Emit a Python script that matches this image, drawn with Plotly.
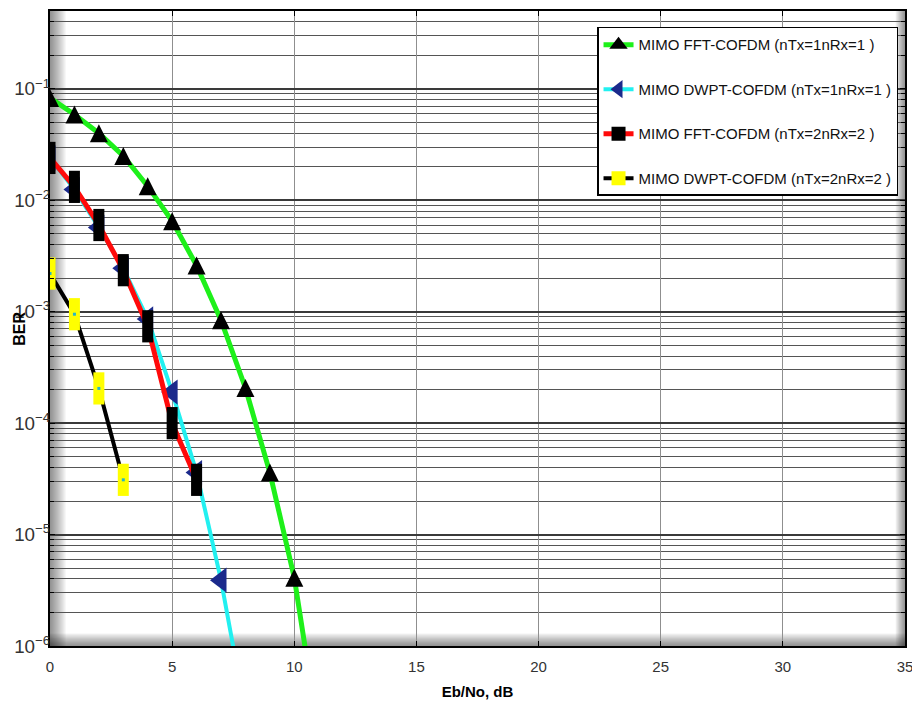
import plotly.graph_objects as go

# Eb/No grid (dB) and measured BER for each scheme
ebno_fft_1x1 = [0, 1, 2, 3, 4, 5, 6, 7, 8, 9, 10, 11]
ber_fft_1x1 = [0.083, 0.059, 0.040, 0.025, 0.0134, 0.0065, 0.0026, 0.00084,
               0.000207, 3.6e-5, 4.1e-6, 1.6e-7]

ebno_dwpt_1x1 = [0, 1, 2, 3, 4, 5, 6, 7, 8]
ber_dwpt_1x1 = [0.024, 0.0125, 0.0057, 0.00245, 0.00086, 0.00019, 3.6e-5,
                3.9e-6, 2.5e-7]

ebno_fft_2x2 = [0, 1, 2, 3, 4, 5, 6]
ber_fft_2x2 = [0.024, 0.0132, 0.0060, 0.00236, 0.00074, 1.0e-4, 3.1e-5]

ebno_dwpt_2x2 = [0, 1, 2, 3]
ber_dwpt_2x2 = [0.0022, 0.00095, 0.000205, 3.1e-5]

names = [
    "MIMO FFT-COFDM (nTx=1nRx=1 )",
    "MIMO DWPT-COFDM (nTx=1nRx=1 )",
    "MIMO FFT-COFDM (nTx=2nRx=2 )",
    "MIMO DWPT-COFDM (nTx=2nRx=2 )",
]

x_ticks = [0, 5, 10, 15, 20, 25, 30, 35]

FONT = "Liberation Sans, Arial, sans-serif"

colors = ["#1ef01a", "#22f0f0", "#ff0a0a", "black"]
widths = [5, 4, 5, 4]

fig = go.Figure()

# legend entries (symbols drawn at legend scale)
legend_markers = [
    dict(symbol="triangle-up", size=16, color="black", line=dict(width=0)),
    dict(symbol="triangle-left", size=16, color="#1b2a8c", line=dict(width=0)),
    dict(symbol="square", size=14, color="black", line=dict(width=0)),
    dict(symbol="square", size=14, color="#ffff00", line=dict(width=0)),
]
for k in range(4):
    fig.add_trace(go.Scatter(
        x=[None], y=[None], name=names[k], mode="lines+markers",
        legendgroup=f"g{k}",
        line=dict(color=colors[k], width=widths[k]),
        marker=legend_markers[k],
    ))

# FFT 1x1: green line, black up-triangles (centred arrow glyph)
fig.add_trace(go.Scatter(
    x=ebno_fft_1x1, y=ber_fft_1x1, mode="lines+markers", showlegend=False,
    legendgroup="g0",
    line=dict(color=colors[0], width=widths[0]),
    marker=dict(symbol="arrow-down", angle=180, standoff=9, size=18,
                color="black", line=dict(width=0)),
))

# DWPT 1x1: cyan line, navy left-triangles
fig.add_trace(go.Scatter(
    x=ebno_dwpt_1x1, y=ber_dwpt_1x1, mode="lines+markers", showlegend=False,
    legendgroup="g1",
    line=dict(color=colors[1], width=widths[1]),
    marker=dict(symbol="triangle-left", size=22, color="#1b2a8c",
                line=dict(width=0)),
))

# FFT 2x2: red line, tall black squares
fig.add_trace(go.Scatter(
    x=ebno_fft_2x2, y=ber_fft_2x2, mode="lines+markers", showlegend=False,
    legendgroup="g2",
    line=dict(color=colors[2], width=widths[2]),
    marker=dict(symbol="line-ns", size=23, color="black",
                line=dict(width=11, color="black")),
))

# DWPT 2x2: black line, tall yellow squares with a cyan centre dot
fig.add_trace(go.Scatter(
    x=ebno_dwpt_2x2, y=ber_dwpt_2x2, mode="lines+markers", showlegend=False,
    legendgroup="g3",
    line=dict(color=colors[3], width=widths[3]),
    marker=dict(symbol="line-ns", size=23, color="#ffff00",
                line=dict(width=11, color="#ffff00")),
))
fig.add_trace(go.Scatter(
    x=ebno_dwpt_2x2, y=ber_dwpt_2x2, mode="markers", showlegend=False,
    hoverinfo="skip",
    marker=dict(symbol="square", size=3, color="#27b5c8", line=dict(width=0)),
))

# soft shading along the inner edges of the axes box
shapes = []
for i in range(1, 17):
    common = dict(type="rect", layer="below", fillcolor="black",
                  opacity=0.032, line=dict(width=0))
    shapes.append(dict(common, xref="paper", yref="paper", xsizemode="pixel",
                       xanchor=0, x0=0, x1=i, y0=0, y1=1))
    shapes.append(dict(common, xref="paper", yref="paper", ysizemode="pixel",
                       yanchor=0, y0=0, y1=i * 0.8, x0=0, x1=1))
    shapes.append(dict(common, xref="paper", yref="paper", xsizemode="pixel",
                       xanchor=1, x0=-i * 0.6, x1=0, y0=0, y1=1))

fig.update_layout(
    width=912, height=713,
    margin=dict(l=50, r=7, t=11, b=67, autoexpand=False),
    paper_bgcolor="white", plot_bgcolor="white",
    font=dict(family=FONT, color="#333333"),
    shapes=shapes,
    showlegend=True,
    legend=dict(
        x=0.6398, y=0.975, xanchor="left", yanchor="top",
        bgcolor="white", bordercolor="black", borderwidth=1.5,
        font=dict(family=FONT, size=15, color="#111111"),
        tracegroupgap=22, itemwidth=30,
    ),
    annotations=[dict(
        text="<b>BER</b>", textangle=-90, showarrow=False,
        xref="paper", yref="paper", x=-0.036, y=0.5,
        xanchor="center", yanchor="middle",
        font=dict(family=FONT, size=16, color="black"),
    )],
)

fig.update_xaxes(
    range=[0, 35], tickvals=x_ticks, ticktext=[str(v) for v in x_ticks],
    showgrid=True, gridcolor="#8f8f8f", gridwidth=1,
    zeroline=False, automargin=False,
    showline=True, linecolor="black", linewidth=2, mirror="allticks",
    ticks="inside", ticklen=5, tickcolor="black",
    ticklabeloverflow="allow", ticklabelstandoff=6,
    tickfont=dict(family=FONT, size=15, color="#333333"),
    title=dict(text="<b>Eb/No, dB</b>", standoff=12,
               font=dict(family=FONT, size=15, color="black")),
)

fig.update_yaxes(
    type="log", range=[-6, -0.30103], dtick=1,
    exponentformat="power",
    showgrid=True, gridcolor="#3a3a3a", gridwidth=2,
    minor=dict(dtick="D1", showgrid=True, gridcolor="#555555", gridwidth=1.2,
               ticks="inside", ticklen=4, tickcolor="black"),
    zeroline=False, automargin=False,
    showline=True, linecolor="black", linewidth=2, mirror="allticks",
    ticks="inside", ticklen=5, tickcolor="black",
    ticklabelstandoff=-5, ticklabeloverflow="allow",
    tickfont=dict(family=FONT, size=15, color="#333333"),
)

fig.write_html("out.html")
